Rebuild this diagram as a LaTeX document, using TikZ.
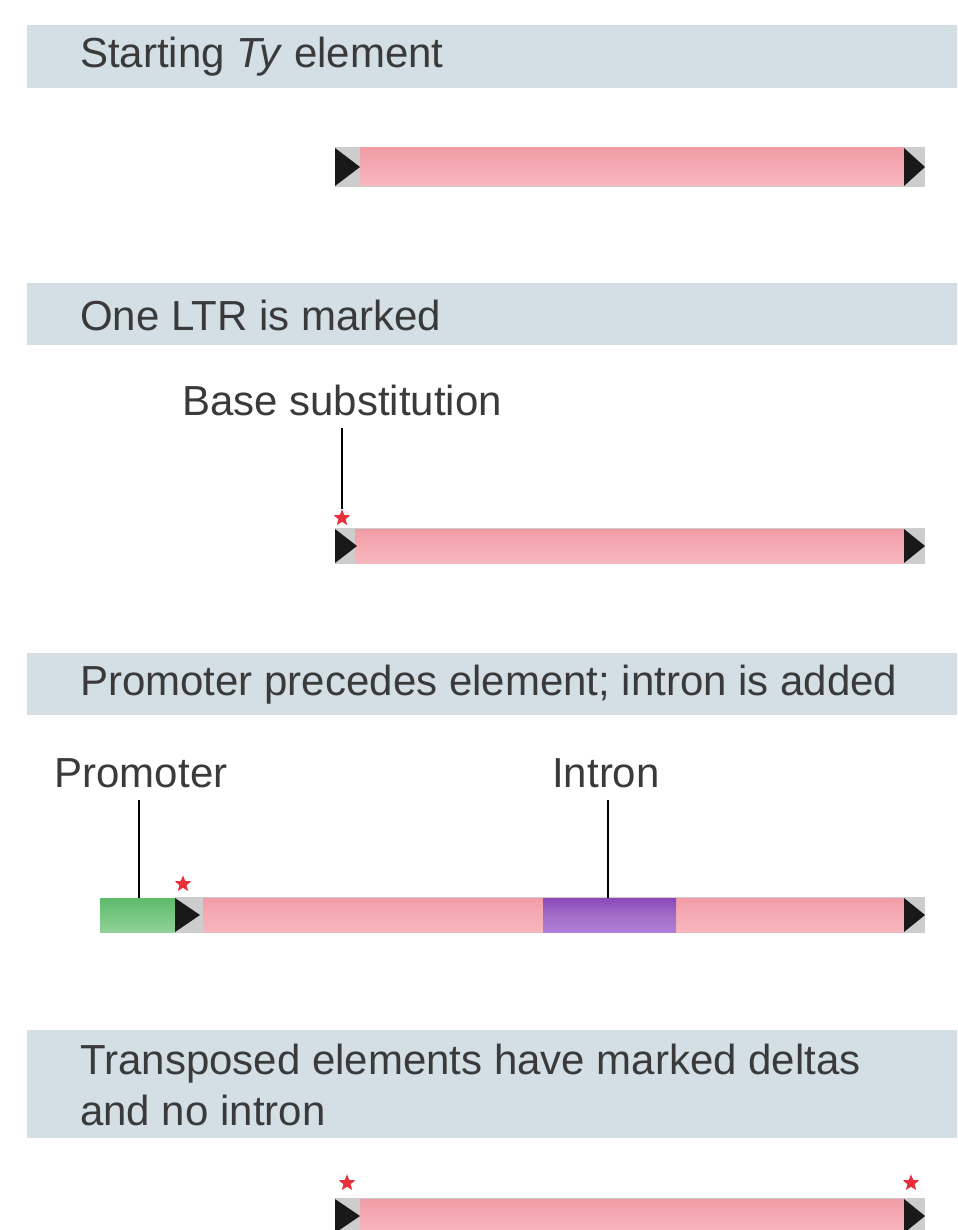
\documentclass[tikz,border=0pt]{standalone}
\usepackage{fontspec}
\setmainfont{Liberation Sans}
\usetikzlibrary{shapes.geometric}
\definecolor{hdr}{HTML}{D3DFE5}
\definecolor{txt}{HTML}{3A3A3A}
\definecolor{barbg}{HTML}{CDCDCD}
\definecolor{pinkA}{HTML}{F19CA6}
\definecolor{pinkB}{HTML}{F7B6BE}
\definecolor{pinkC}{HTML}{F5ABB3}
\definecolor{grnA}{HTML}{5DBB6A}
\definecolor{grnB}{HTML}{8FD197}
\definecolor{purA}{HTML}{8A48B8}
\definecolor{purB}{HTML}{B07ED8}
\definecolor{starred}{HTML}{E8303A}
\tikzset{
  hdrtext/.style={anchor=west, text=txt, inner sep=0pt, font=\fontsize{31.5pt}{36pt}\selectfont, align=left},
  lbl/.style={text=txt, inner sep=0pt, font=\fontsize{31.5pt}{36pt}\selectfont},
  redstar/.style={star, star points=5, star point ratio=2.3, fill=starred, draw=none, minimum size=13pt, inner sep=0pt},
  pointer/.style={draw=black, line width=1.2pt},
  tri/.style={fill=black!90},
}
\newcommand{\dnabar}[4]{% x1, x2(pink start), y1, y2
  \fill[barbg] (#1,#3) rectangle (925,#4);
  \shade[top color=pinkA, bottom color=pinkB, middle color=pinkC] (#2,#3+1) rectangle (904,#4-1);
  \fill[tri] (904,#3+1) -- (925,{(#3+#4)/2}) -- (904,#4-1) -- cycle;
}
\begin{document}
\begin{tikzpicture}[x=0.75pt,y=-0.75pt]
\useasboundingbox (0,0) rectangle (957,1230);
\fill[white] (0,0) rectangle (957,1230);
% headers
\fill[hdr] (27,25) rectangle (957,88);
\node[hdrtext] (h1) at (80,57) {Starting \textit{Ty} element};
\fill[hdr] (27,283) rectangle (957,345);
\node[hdrtext] (h2) at (80,315) {One LTR is marked};
\fill[hdr] (27,653) rectangle (957,715);
\node[hdrtext] (h3) at (80,685) {Promoter precedes element; intron is added};
\fill[hdr] (27,1030) rectangle (957,1138);
\node[hdrtext] (h4) at (80,1085) {Transposed elements have marked deltas\\[2pt]and no intron};
% bar 1
\dnabar{335}{360}{147}{187}
\fill[tri] (335,148) -- (360,167) -- (335,186) -- cycle;
% bar 2
\dnabar{335}{355}{528}{564}
\fill[tri] (335,529) -- (357,546) -- (335,563) -- cycle;
\node[redstar] (s2) at (342,518) {};
\node[lbl] (bs) at (342,400) {Base substitution};
\coordinate (bstop) at (342,428);
\draw[pointer] (bstop) -- (s2.north);
% bar 3
\fill[barbg] (175,897) rectangle (925,933);
\shade[top color=grnA, bottom color=grnB] (100,898) rectangle (175,932);
\node[inner sep=0pt, minimum width=56.25pt, minimum height=25.5pt] (prom) at (137.5,915) {};
\shade[top color=pinkA, bottom color=pinkB, middle color=pinkC] (203,898) rectangle (904,932);
\shade[top color=purA, bottom color=purB, middle color=purA!80!white] (543,898) rectangle (676,932);
\node[inner sep=0pt, minimum width=99.75pt, minimum height=25.5pt] (intr) at (609.5,915) {};
\fill[tri] (175,898) -- (200,915) -- (175,932) -- cycle;
\fill[tri] (904,898) -- (925,915) -- (904,932) -- cycle;
\node[redstar] (s3) at (183,884) {};
\node[lbl] (pl) at (141,773) {Promoter};
\node[lbl] (il) at (606,773) {Intron};
\coordinate (pltop) at (139,800);
\coordinate (iltop) at (608,800);
\draw[pointer] (pltop) -- (139,898);
\draw[pointer] (iltop) -- (608,898);
% bar 4
\dnabar{335}{360}{1198}{1234}
\fill[tri] (335,1199) -- (360,1216) -- (335,1233) -- cycle;
\node[redstar] (s4a) at (347,1183) {};
\node[redstar] (s4b) at (911,1183) {};
\end{tikzpicture}
\end{document}
